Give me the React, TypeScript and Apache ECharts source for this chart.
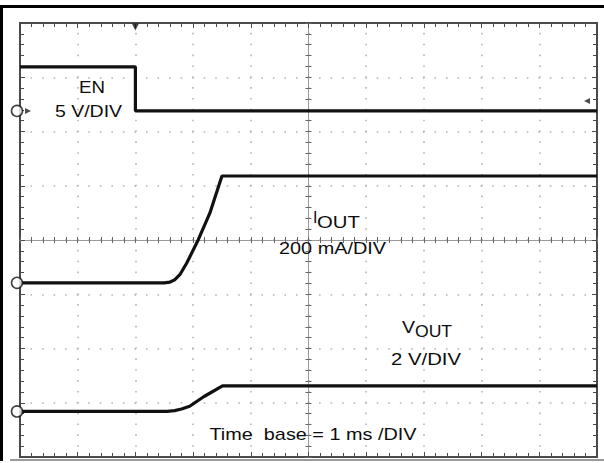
import { useEffect, useRef } from "react";
import * as echarts from "echarts";

// Scope graticule: 10 horizontal divisions (1 ms/div), 8 vertical divisions
const TIME_DIVS = 10;
const VERT_DIVS = 8;
const TRIGGER_TIME = 2.0; // ms

// EN channel (5 V/div), ground marker position in divisions from bottom
const EN_SCALE = 5;
const EN_OFFSET = 6.38;
const EN_T = [0, 2.0, 2.0, 10];
const EN_V = [4.05, 4.05, 0, 0];
const TRIGGER_LEVEL = 0.9; // V

// IOUT channel (200 mA/div)
const IOUT_SCALE = 200;
const IOUT_OFFSET = 3.21;
const IOUT_T = [0, 2.5, 2.6, 2.68, 2.77, 2.89, 3.09, 3.29, 3.5, 10];
const IOUT_MA = [0, 0, 3, 11, 30, 73, 159, 257, 394, 394];

// VOUT channel (2 V/div)
const VOUT_SCALE = 2;
const VOUT_OFFSET = 0.84;
const VOUT_T = [0, 2.55, 2.68, 2.8, 2.94, 3.19, 3.51, 10];
const VOUT_V = [0, 0, 0.03, 0.09, 0.19, 0.55, 0.94, 0.94];

const LABEL_EN = "EN";
const LABEL_EN_SCALE = "5 V/DIV";
const LABEL_IOUT = ["I", "OUT"];
const LABEL_IOUT_SCALE = "200 mA/DIV";
const LABEL_VOUT = ["V", "OUT"];
const LABEL_VOUT_SCALE = "2 V/DIV";
const LABEL_TIME = "Time  base = 1 ms /DIV";

const toDivs = (ts: number[], vs: number[], scale: number, offset: number) =>
  ts.map((t, i) => [t, offset + vs[i] / scale]);

const FONT = '16px "Liberation Sans", Arial, Helvetica, sans-serif';

const txt = (text: string, x: number, y: number, align = "center", sx = 1.22) => ({
  type: "text",
  x,
  y,
  scaleX: sx,
  z: 20,
  style: {
    text,
    fill: "#0d0d0d",
    font: FONT,
    textAlign: align,
    textVerticalAlign: "middle",
    align,
    verticalAlign: "middle",
  },
});

export default function App() {
  const ref = useRef<HTMLDivElement>(null);

  useEffect(() => {
    document.body.style.margin = "0";
    if (!ref.current) return;
    const chart = echarts.init(ref.current, null, { renderer: "svg" });

    const frameLine = { show: true, onZero: false, lineStyle: { color: "#4a4a4a", width: 2 } };
    const frameTick = { show: true, inside: true, length: 5, lineStyle: { color: "#4a4a4a", width: 1 } };
    const frameMinor = { show: true, splitNumber: 5, length: 4, lineStyle: { color: "#4a4a4a", width: 1 } };
    const centerLine = { show: true, onZero: false, lineStyle: { color: "#9a9a9a", width: 1 } };
    const centerTick = (inside: boolean) => ({
      show: true,
      inside,
      length: 3,
      lineStyle: { color: "#666", width: 1 },
    });
    const centerMinor = { show: true, splitNumber: 5, length: 3, lineStyle: { color: "#666", width: 1 } };

    const xBase = {
      type: "value",
      min: 0,
      max: TIME_DIVS,
      interval: 1,
      axisLabel: { show: false },
    };
    const yBase = {
      type: "value",
      min: 0,
      max: VERT_DIVS,
      interval: 1,
      axisLabel: { show: false },
    };

    const traceStyle = { color: "#111", width: 3.2 };

    const option: any = {
      animation: false,
      backgroundColor: "#ffffff",
      grid: {
        left: 20,
        top: 23,
        width: 577,
        height: 434,
        containLabel: false,
        outerBoundsMode: "none",
      },
      xAxis: [
        {
          ...xBase,
          position: "bottom",
          axisLine: frameLine,
          axisTick: frameTick,
          minorTick: frameMinor,
          splitLine: {
            show: true,
            lineStyle: { color: "#b4b4b4", width: 1.6, type: [1.6, 9.25], dashOffset: 0.8 },
          },
        },
        {
          ...xBase,
          position: "top",
          axisLine: frameLine,
          axisTick: frameTick,
          minorTick: frameMinor,
          splitLine: { show: false },
        },
        {
          ...xBase,
          position: "bottom",
          offset: -217,
          axisLine: centerLine,
          axisTick: centerTick(true),
          minorTick: centerMinor,
          splitLine: { show: false },
        },
        {
          ...xBase,
          position: "bottom",
          offset: -217,
          axisLine: centerLine,
          axisTick: centerTick(false),
          minorTick: centerMinor,
          splitLine: { show: false },
        },
      ],
      yAxis: [
        {
          ...yBase,
          position: "left",
          axisLine: frameLine,
          axisTick: frameTick,
          minorTick: frameMinor,
          splitLine: {
            show: true,
            lineStyle: { color: "#b4b4b4", width: 1.6, type: [1.6, 9.94], dashOffset: 0.8 },
          },
        },
        {
          ...yBase,
          position: "right",
          axisLine: frameLine,
          axisTick: frameTick,
          minorTick: frameMinor,
          splitLine: { show: false },
        },
        {
          ...yBase,
          position: "left",
          offset: -288.5,
          axisLine: centerLine,
          axisTick: centerTick(true),
          minorTick: centerMinor,
          splitLine: { show: false },
        },
        {
          ...yBase,
          position: "left",
          offset: -288.5,
          axisLine: centerLine,
          axisTick: centerTick(false),
          minorTick: centerMinor,
          splitLine: { show: false },
        },
      ],
      series: [
        {
          type: "line",
          name: "EN",
          xAxisIndex: 0,
          yAxisIndex: 0,
          data: toDivs(EN_T, EN_V, EN_SCALE, EN_OFFSET),
          symbol: "none",
          lineStyle: traceStyle,
          z: 5,
        },
        {
          type: "line",
          name: "IOUT",
          xAxisIndex: 0,
          yAxisIndex: 0,
          data: toDivs(IOUT_T, IOUT_MA, IOUT_SCALE, IOUT_OFFSET),
          symbol: "none",
          lineStyle: traceStyle,
          z: 5,
        },
        {
          type: "line",
          name: "VOUT",
          xAxisIndex: 0,
          yAxisIndex: 0,
          data: toDivs(VOUT_T, VOUT_V, VOUT_SCALE, VOUT_OFFSET),
          symbol: "none",
          lineStyle: traceStyle,
          z: 5,
        },
        {
          type: "scatter",
          name: "ground markers",
          xAxisIndex: 0,
          yAxisIndex: 0,
          clip: false,
          symbol: "circle",
          symbolSize: 11,
          symbolOffset: [-3, 0],
          itemStyle: { color: "#fff", borderColor: "#111", borderWidth: 1.6 },
          data: [
            [0, EN_OFFSET],
            [0, IOUT_OFFSET],
            [0, VOUT_OFFSET],
          ],
          z: 10,
        },
        {
          type: "scatter",
          name: "EN arrow",
          xAxisIndex: 0,
          yAxisIndex: 0,
          clip: false,
          symbol: "triangle",
          symbolRotate: -90,
          symbolSize: [6, 6],
          symbolOffset: [8, 0],
          itemStyle: { color: "#222" },
          data: [[0, EN_OFFSET]],
          z: 10,
        },
        {
          type: "scatter",
          name: "trigger time",
          xAxisIndex: 0,
          yAxisIndex: 0,
          clip: false,
          symbol: "triangle",
          symbolRotate: 180,
          symbolSize: [7, 7],
          symbolOffset: [0, 4],
          itemStyle: { color: "#111" },
          data: [[TRIGGER_TIME, VERT_DIVS]],
          z: 10,
        },
        {
          type: "scatter",
          name: "trigger level",
          xAxisIndex: 0,
          yAxisIndex: 0,
          clip: false,
          symbol: "triangle",
          symbolRotate: 90,
          symbolSize: [6, 6],
          symbolOffset: [-10, 0],
          itemStyle: { color: "#222" },
          data: [[TIME_DIVS, EN_OFFSET + TRIGGER_LEVEL / EN_SCALE]],
          z: 10,
        },
      ],
      graphic: [
        { type: "rect", shape: { x: 0, y: 5, width: 604, height: 3 }, style: { fill: "#000" }, z: 30 },
        { type: "rect", shape: { x: 0, y: 5, width: 3, height: 456 }, style: { fill: "#000" }, z: 30 },
        { type: "rect", shape: { x: 10, y: 459, width: 594, height: 2 }, style: { fill: "#9a9a9a" }, z: 30 },
        txt(LABEL_EN, 92, 87, "center", 1.17),
        txt(LABEL_EN_SCALE, 88.5, 111.5, "center", 1.22),
        txt(LABEL_IOUT[0], 313, 217.5, "left", 1.0),
        txt(LABEL_IOUT[1], 317, 222, "left", 1.27),
        txt(LABEL_IOUT_SCALE, 332.5, 249, "center", 1.24),
        txt(LABEL_VOUT[0], 402, 327.5, "left", 1.22),
        txt(LABEL_VOUT[1], 415, 331.5, "left", 1.1),
        txt(LABEL_VOUT_SCALE, 426, 359, "center", 1.27),
        txt(LABEL_TIME, 313, 435, "center", 1.24),
      ],
    };

    chart.setOption(option);
    return () => chart.dispose();
  }, []);

  return <div ref={ref} style={{ width: 604, height: 463 }} />;
}
